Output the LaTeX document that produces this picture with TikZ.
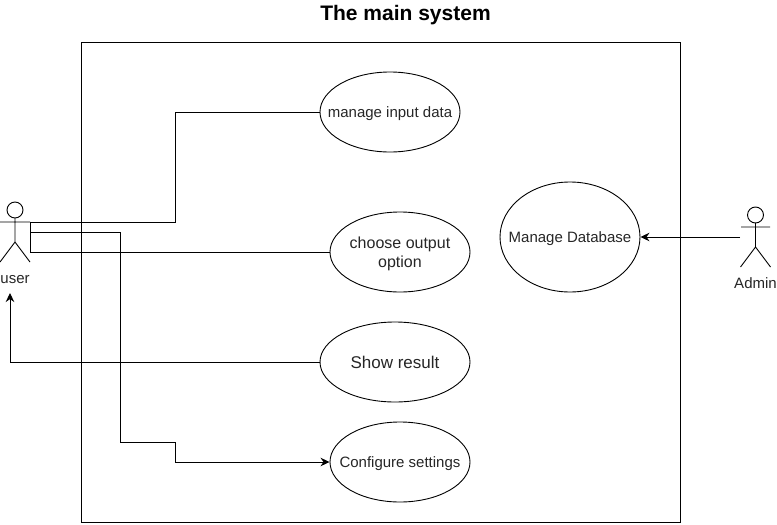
\documentclass[tikz,border=0pt]{standalone}
\usepackage{fontspec}
\setmainfont{Liberation Sans}
\usetikzlibrary{arrows.meta,positioning,shapes.geometric}

\begin{document}
\begin{tikzpicture}[
  x=1pt, y=-1pt,
  line width=0.9pt,
  font=\fontsize{15}{19}\selectfont,
  usecase/.style={draw, ellipse, align=center, inner sep=-22pt, minimum width=140pt, minimum height=80pt, text=black!85, text depth=-2pt},
  actorbox/.style={minimum width=30pt, minimum height=60pt, inner sep=0pt},
  actorname/.style={inner sep=0pt, text=black!85},
  link/.style={-{Stealth[length=9pt,width=8.5pt]}}
]
\useasboundingbox (0,0) rectangle (777,525);

\node[draw, minimum width=599pt, minimum height=480pt, inner sep=0pt] (system) at (380.5,282) {};
\node[font=\fontsize{21}{25}\selectfont\bfseries] (title) at (405.5,15) {The main system};

\node[usecase] (input) at (390,112) {manage input data};
\node[usecase, font=\fontsize{16}{19}\selectfont] (output) at (400,252) {choose output\\option};
\node[usecase, minimum height=110pt] (database) at (570,237) {Manage Database};
\node[usecase, minimum width=150pt, font=\fontsize{17}{20}\selectfont] (result) at (395,362) {Show result};
\node[usecase] (settings) at (400,462) {Configure settings};

% actors
\node[actorbox] (user) at (15,232) {};
\draw (15,210) circle (8);
\draw (15,218) -- (15,242) (0,222) -- (30,222) (0,262) -- (15,242) -- (30,262);
\node[actorname, below=13pt of user] (username) {user};

\node[actorbox] (admin) at (755.5,237) {};
\draw (755.5,215) circle (8);
\draw (755.5,223) -- (755.5,247) (741,227) -- (770,227) (740.5,267) -- (755.5,247) -- (770.5,267);
\node[actorname, below=10pt of admin] (adminname) {Admin};

\coordinate (usertip) at (10,293);

\draw (user.east) |- (175,222) |- (input.west);
\draw (user.east) |- (output.west);
\draw[link] (user.east) -| (120,442) -| (175,462) -- (settings.west);
\draw[link] (result.west) -| (usertip);
\draw[link] (admin.west) -- (database.east);

\end{tikzpicture}
\end{document}
